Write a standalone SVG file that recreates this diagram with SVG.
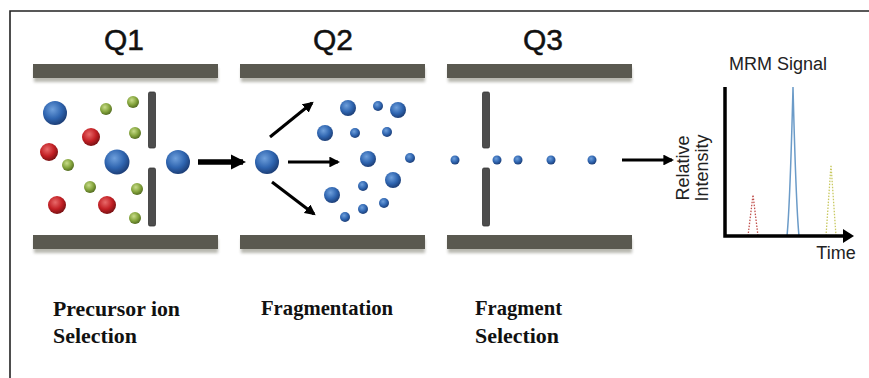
<svg xmlns="http://www.w3.org/2000/svg" width="869" height="378" viewBox="0 0 869 378">
<defs>
<radialGradient id="gb" cx="0.4" cy="0.35" r="0.65"><stop offset="0" stop-color="#6fa0dc"/><stop offset="0.6" stop-color="#2f65b0"/><stop offset="1" stop-color="#1d3f78"/></radialGradient>
<radialGradient id="gr" cx="0.4" cy="0.35" r="0.65"><stop offset="0" stop-color="#e86a6a"/><stop offset="0.6" stop-color="#c21f24"/><stop offset="1" stop-color="#7a1214"/></radialGradient>
<radialGradient id="gg" cx="0.4" cy="0.35" r="0.65"><stop offset="0" stop-color="#c8dc8a"/><stop offset="0.6" stop-color="#84a43c"/><stop offset="1" stop-color="#556e22"/></radialGradient>
<filter id="sh" x="-10%" y="-50%" width="120%" height="220%"><feGaussianBlur stdDeviation="1.5"/></filter>
<marker id="ah" viewBox="0 0 10 10" refX="8" refY="5" markerWidth="3.6" markerHeight="3.6" orient="auto" markerUnits="strokeWidth"><path d="M0,0 L10,5 L0,10 z" fill="#000"/></marker>
<marker id="ah2" viewBox="0 0 10 10" refX="8" refY="5" markerWidth="2.8" markerHeight="2.8" orient="auto" markerUnits="strokeWidth"><path d="M0,0 L10,5 L0,10 z" fill="#000"/></marker>
</defs>
<style>
.rail{fill:#5a5950}
.rsh{fill:#b8b8b0;filter:url(#sh)}
.slit{fill:#4d4d4d;stroke:#333;stroke-width:0.8}
.b{fill:url(#gb)}
.r{fill:url(#gr)}
.g{fill:url(#gg)}
.q{font-family:"Liberation Sans",Arial,sans-serif;font-size:30px;fill:#111;stroke:#111;stroke-width:0.5;text-anchor:middle}
.lab{font-family:"Liberation Serif","Times New Roman",serif;font-weight:bold;font-size:22px;fill:#111}
.sm{font-family:"Liberation Sans",Arial,sans-serif;fill:#222}
.con{stroke:#000;fill:none}
</style>
<rect width="869" height="378" fill="#fff"/>
<path d="M10,378 L10,11 L869,11" fill="none" stroke="#222" stroke-width="1.6"/>

<g id="q1">
<text class="q" x="124" y="50">Q1</text>
<rect class="rsh" x="34" y="68" width="184" height="14"/>
<rect class="rail" x="33" y="64" width="185" height="14"/>
<rect class="rsh" x="34" y="239" width="184" height="14"/>
<rect class="rail" x="33" y="235" width="185" height="14"/>
<rect class="slit" x="148.5" y="92" width="7" height="56" rx="1.5"/>
<rect class="slit" x="148.5" y="168" width="7" height="58" rx="1.5"/>
<circle class="b" cx="55" cy="113" r="12"/>
<circle class="b" cx="117" cy="162" r="12.5"/>
<circle class="r" cx="91" cy="137" r="9"/>
<circle class="r" cx="49" cy="152" r="9"/>
<circle class="r" cx="57" cy="205" r="9"/>
<circle class="r" cx="107" cy="205" r="9"/>
<circle class="g" cx="106" cy="109" r="6"/>
<circle class="g" cx="133" cy="102" r="6"/>
<circle class="g" cx="135" cy="133" r="6"/>
<circle class="g" cx="68" cy="165" r="6"/>
<circle class="g" cx="90" cy="187" r="6"/>
<circle class="g" cx="137" cy="189" r="6"/>
<circle class="g" cx="135" cy="218" r="6"/>
<circle class="b" cx="178" cy="162" r="12"/>
</g>

<g id="q2">
<text class="q" x="333" y="50">Q2</text>
<rect class="rsh" x="241" y="68" width="184" height="14"/>
<rect class="rail" x="240" y="64" width="185" height="14"/>
<rect class="rsh" x="241" y="239" width="184" height="14"/>
<rect class="rail" x="240" y="235" width="185" height="14"/>
<circle class="b" cx="267" cy="162" r="12"/>
<circle class="b" cx="348" cy="108" r="8"/>
<circle class="b" cx="378" cy="106" r="5"/>
<circle class="b" cx="398" cy="110" r="8"/>
<circle class="b" cx="325" cy="133" r="8"/>
<circle class="b" cx="355" cy="133" r="5"/>
<circle class="b" cx="387" cy="132" r="5"/>
<circle class="b" cx="368" cy="159" r="8"/>
<circle class="b" cx="410" cy="158" r="5"/>
<circle class="b" cx="393" cy="180" r="8"/>
<circle class="b" cx="363" cy="186" r="5"/>
<circle class="b" cx="332" cy="195" r="8"/>
<circle class="b" cx="384" cy="203" r="5"/>
<circle class="b" cx="363" cy="209" r="5"/>
<circle class="b" cx="345" cy="217" r="5"/>
</g>

<g id="q3">
<text class="q" x="543" y="50">Q3</text>
<rect class="rsh" x="448" y="68" width="184" height="14"/>
<rect class="rail" x="447" y="64" width="185" height="14"/>
<rect class="rsh" x="448" y="239" width="184" height="14"/>
<rect class="rail" x="447" y="235" width="185" height="14"/>
<rect class="slit" x="482.5" y="92" width="7" height="56" rx="1.5"/>
<rect class="slit" x="482.5" y="168" width="7" height="58" rx="1.5"/>
<circle class="b" cx="455" cy="160" r="4.5"/>
<circle class="b" cx="497" cy="160" r="4.5"/>
<circle class="b" cx="518" cy="160" r="4.5"/>
<circle class="b" cx="551" cy="160" r="4.5"/>
<circle class="b" cx="592" cy="160" r="4.5"/>
</g>

<g id="chart">
<text class="sm" x="778" y="70" font-size="18" text-anchor="middle">MRM Signal</text>
<text class="sm" x="836" y="259" font-size="18" text-anchor="middle">Time</text>
<text class="sm" font-size="18" text-anchor="middle" transform="translate(689,168) rotate(-90)">Relative</text>
<text class="sm" font-size="18" text-anchor="middle" transform="translate(708,168) rotate(-90)">Intensity</text>
<path d="M748,236 L753,195 L758,236" fill="none" stroke="#c0504d" stroke-width="1.3" stroke-dasharray="1.5,1.5"/>
<path d="M787,236 Q790,205 793,87 Q796,205 799,236" fill="none" stroke="#6b9bc8" stroke-width="1.5"/>
<path d="M826,236 L831,165 L836,236" fill="none" stroke="#c8c860" stroke-width="1.3" stroke-dasharray="1.5,1.5"/>
<path d="M725,87 L725,236 L845,236" fill="none" stroke="#000" stroke-width="3.5"/>
<path d="M843,229 L854,236 L843,243 z" fill="#000"/>
</g>

<g id="connectors">
<line class="con" x1="198" y1="162" x2="243" y2="162" stroke-width="5.5" marker-end="url(#ah2)"/>
<line class="con" x1="270" y1="137" x2="312" y2="103" stroke-width="3" marker-end="url(#ah)"/>
<line class="con" x1="288" y1="162" x2="338" y2="162" stroke-width="3" marker-end="url(#ah)"/>
<line class="con" x1="272" y1="182" x2="314" y2="214" stroke-width="3" marker-end="url(#ah)"/>
<line class="con" x1="622" y1="160" x2="672" y2="160" stroke-width="3" marker-end="url(#ah)"/>
</g>

<g id="labels">
<text class="lab" x="53" y="316" textLength="127" lengthAdjust="spacingAndGlyphs">Precursor ion</text>
<text class="lab" x="53" y="343" textLength="84" lengthAdjust="spacingAndGlyphs">Selection</text>
<text class="lab" x="261" y="315" textLength="132" lengthAdjust="spacingAndGlyphs">Fragmentation</text>
<text class="lab" x="475" y="315" textLength="87" lengthAdjust="spacingAndGlyphs">Fragment</text>
<text class="lab" x="475" y="343" textLength="84" lengthAdjust="spacingAndGlyphs">Selection</text>
</g>
</svg>
